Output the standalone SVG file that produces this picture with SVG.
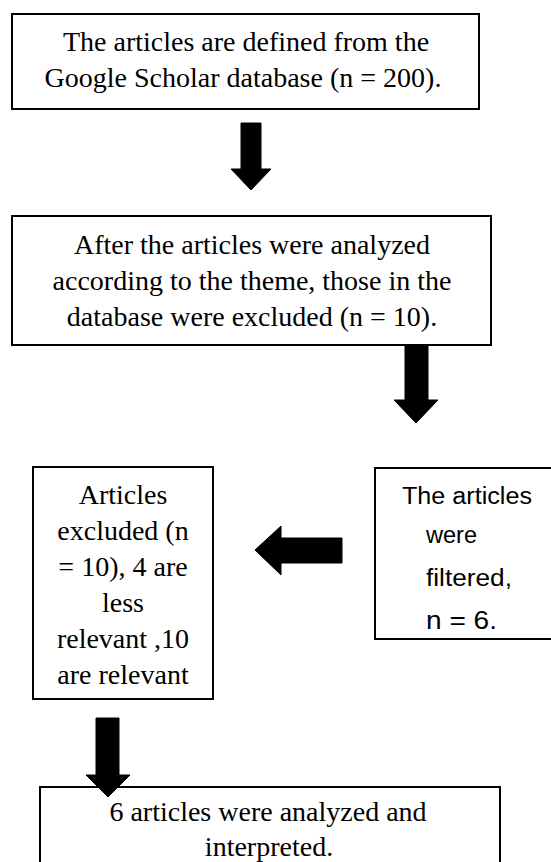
<svg xmlns="http://www.w3.org/2000/svg" width="551" height="862" viewBox="0 0 551 862">
<style>
.box{fill:#fff;stroke:#000;stroke-width:2}
.sf{font-family:"Liberation Serif",serif;font-size:28px;fill:#000;text-anchor:middle}
.ss{font-family:"Liberation Sans",sans-serif;font-size:23px;fill:#000}
.arr{fill:#000;stroke:#000;stroke-width:1;stroke-linejoin:round}
</style>
<rect width="551" height="862" fill="#fff"/>
<g id="node1">
<rect class="box" x="12" y="14" width="467" height="95"/>
<text class="sf" x="246" y="51">The articles are defined from the</text>
<text class="sf" x="243" y="87">Google Scholar database (n = 200).</text>
</g>
<g id="node2">
<rect class="box" x="12" y="216" width="479" height="129"/>
<text class="sf" x="252" y="254">After the articles were analyzed</text>
<text class="sf" x="252" y="290">according to the theme, those in the</text>
<text class="sf" x="252" y="326">database were excluded (n = 10).</text>
</g>
<g id="node3">
<rect class="box" x="375" y="468" width="180" height="171"/>
<text class="ss" x="402" y="504" textLength="130" lengthAdjust="spacingAndGlyphs">The articles</text>
<text class="ss" x="426" y="543" textLength="51" lengthAdjust="spacingAndGlyphs">were</text>
<text class="ss" x="426" y="586" textLength="86" lengthAdjust="spacingAndGlyphs">filtered,</text>
<text class="ss" x="426" y="629" style="font-size:25px" textLength="71" lengthAdjust="spacingAndGlyphs">n = 6.</text>
</g>
<g id="node4">
<rect class="box" x="33" y="467" width="180" height="232"/>
<text class="sf" x="123" y="504">Articles</text>
<text class="sf" x="123" y="540">excluded (n</text>
<text class="sf" x="123" y="576">= 10), 4 are</text>
<text class="sf" x="123" y="612">less</text>
<text class="sf" x="123" y="648">relevant ,10</text>
<text class="sf" x="123" y="684">are relevant</text>
</g>
<g id="node5">
<rect class="box" x="40" y="787" width="460" height="100"/>
<text class="sf" x="268" y="821">6 articles were analyzed and</text>
<text class="sf" x="269" y="856">interpreted.</text>
</g>
<g id="connectors">
<polygon class="arr" points="241,123 261,123 261,169 271,169 251,190 231,169 241,169"/>
<polygon class="arr" points="405,345 428,345 428,400 438,400 416,423 394,400 405,400"/>
<polygon class="arr" points="342,538 342,563 281,563 281,575 255,550 281,526 281,538"/>
<polygon class="arr" points="96,718 119,718 119,775 130,775 108,797 86,775 96,775"/>
</g>
</svg>
